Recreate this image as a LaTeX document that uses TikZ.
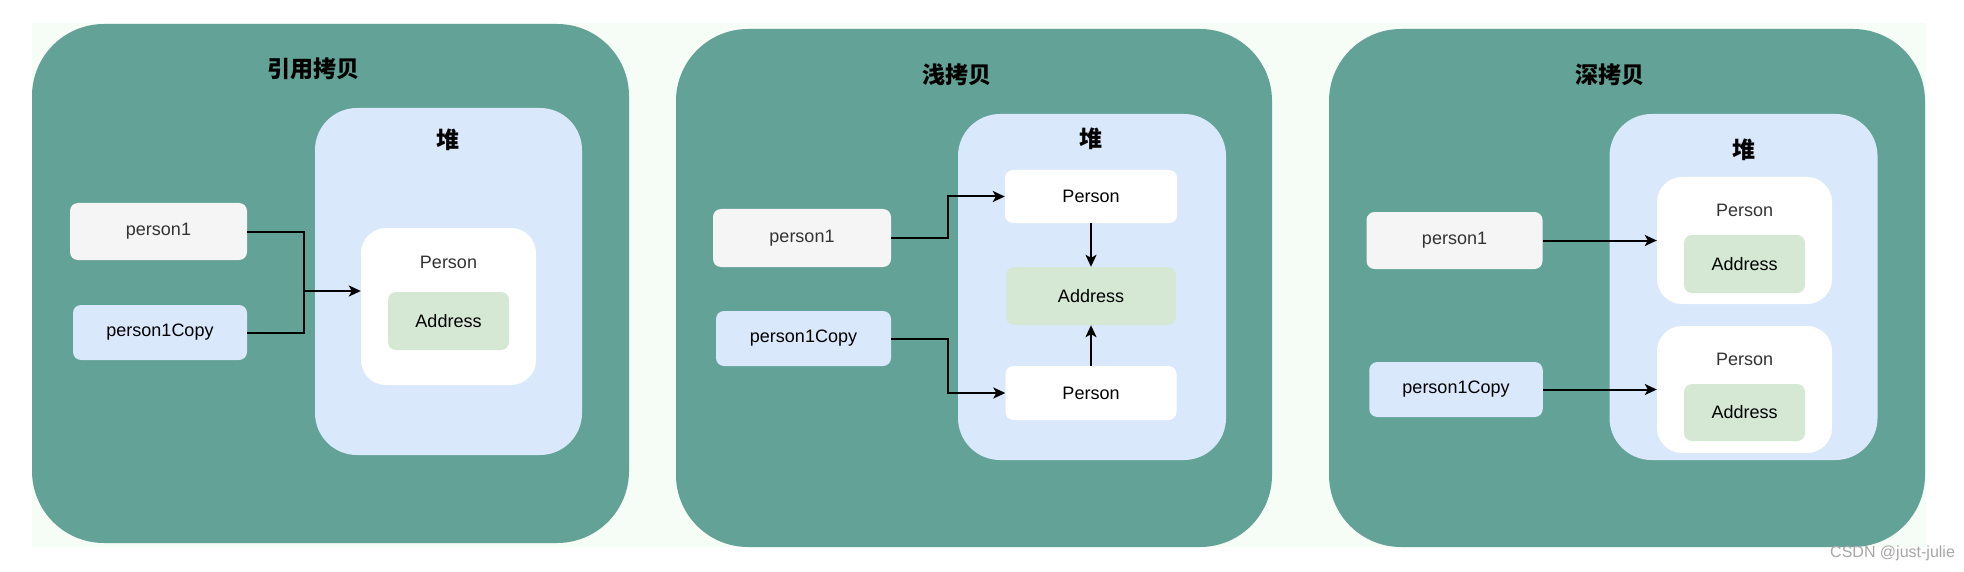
\documentclass[tikz,border=0pt]{standalone}
\usepackage{fontspec}
\setmainfont{Liberation Sans}
\newfontfamily\cjk{Noto Sans CJK SC}
\usetikzlibrary{arrows.meta}
\definecolor{panelgreen}{HTML}{63A296}
\definecolor{heapblue}{HTML}{DAE8FC}
\definecolor{greybox}{HTML}{F5F5F5}
\definecolor{addrgreen}{HTML}{D5E8D4}
\definecolor{bgc}{HTML}{F6FCF6}
\definecolor{txtgrey}{HTML}{333333}
\begin{document}
\begin{tikzpicture}[x=1pt,y=-1pt,
  panel/.style={fill=panelgreen, rounded corners=72pt, inner sep=0pt},
  heap/.style={fill=heapblue, rounded corners=42pt, inner sep=0pt},
  title/.style={font=\cjk\bfseries\fontsize{23}{26}\selectfont, text=black},
  heaplbl/.style={font=\cjk\bfseries\fontsize{23}{26}\selectfont, text=black},
  varbox/.style={rounded corners=8pt, inner sep=0pt, font=\fontsize{18}{20}\selectfont},
  objbig/.style={fill=white, rounded corners=25pt, inner sep=0pt},
  objsmall/.style={fill=white, rounded corners=8pt, inner sep=0pt, font=\fontsize{18}{20}\selectfont, text=black},
  addr/.style={fill=addrgreen, rounded corners=8pt, inner sep=0pt, font=\fontsize{18}{20}\selectfont, text=black},
  lbl/.style={font=\fontsize{18}{20}\selectfont, text=txtgrey},
  conn/.style={draw=black, line width=2pt},
  arr/.style={conn, -{Stealth[length=12pt,width=11pt,inset=3pt]}}
]
\useasboundingbox (0,0) rectangle (1964,572);
\fill[white] (0,0) rectangle (1964,572);
\fill[bgc] (32,23) rectangle (1926,547);

% ---------- Panel 1 ----------
\node[panel, minimum width=597pt, minimum height=519pt] (g1) at (330.5,283.5) {};
\node[title] (t1) at (313,69) {引用拷贝};
\node[heap, minimum width=267pt, minimum height=347pt] (h1) at (448.5,281.5) {};
\node[heaplbl] (hl1) at (448,140) {堆};
\node[varbox, fill=greybox, text=txtgrey, minimum width=177pt, minimum height=57pt] (a1) at (158.5,231.5) {person1};
\node[varbox, fill=heapblue, text=black, minimum width=174pt, minimum height=55pt] (c1) at (160,332.5) {person1Copy};
\node[objbig, minimum width=175pt, minimum height=157pt] (o1) at (448.5,306.5) {};
\node[lbl] (ol1) at (448.5,262) {Person};
\node[addr, minimum width=121pt, minimum height=58pt] (ad1) at (448.5,321) {Address};
\coordinate (j1) at (304,291);
\draw[conn, line join=miter] (a1.east) -| (j1);
\draw[conn, line join=miter] (c1.east) -| (j1);
\draw[arr] (j1) -- (o1.west |- j1);

% ---------- Panel 2 ----------
\node[panel, minimum width=596pt, minimum height=518pt] (g2) at (974,288) {};
\node[title] (t2) at (957,75) {浅拷贝};
\node[heap, minimum width=268pt, minimum height=346pt] (h2) at (1092,287) {};
\node[heaplbl] (hl2) at (1091,139) {堆};
\node[varbox, fill=greybox, text=txtgrey, minimum width=178pt, minimum height=58pt] (a2) at (802,238) {person1};
\node[varbox, fill=heapblue, text=black, minimum width=175pt, minimum height=55pt] (c2) at (803.5,338.5) {person1Copy};
\node[objsmall, minimum width=172pt, minimum height=53pt] (pa2) at (1091,196.5) {Person};
\node[addr, minimum width=170pt, minimum height=58pt] (ad2) at (1091,296) {Address};
\node[objsmall, minimum width=171pt, minimum height=54pt] (pb2) at (1091,393) {Person};
\draw[arr, line join=miter] (a2.east) -- ++(57,0) |- (pa2.west);
\draw[arr, line join=miter] (c2.east) -- ++(57,0) |- (pb2.west);
\draw[arr] (pa2.south) -- (ad2.north);
\draw[arr] (pb2.north) -- (ad2.south);

% ---------- Panel 3 ----------
\node[panel, minimum width=596pt, minimum height=518pt] (g3) at (1627,288) {};
\node[title] (t3) at (1609.5,75) {深拷贝};
\node[heap, minimum width=268pt, minimum height=346pt] (h3) at (1743.5,287) {};
\node[heaplbl] (hl3) at (1744,150) {堆};
\node[varbox, fill=greybox, text=txtgrey, minimum width=176pt, minimum height=57pt] (a3) at (1454.5,240.5) {person1};
\node[varbox, fill=heapblue, text=black, minimum width=173.5pt, minimum height=55pt] (c3) at (1456,389.5) {person1Copy};
\node[objbig, minimum width=175pt, minimum height=127pt] (o3a) at (1744.5,240.5) {};
\node[lbl] (ol3a) at (1744.5,210) {Person};
\node[addr, minimum width=121pt, minimum height=58pt] (ad3a) at (1744.5,264) {Address};
\node[objbig, minimum width=175pt, minimum height=127pt] (o3b) at (1744.5,389.5) {};
\node[lbl] (ol3b) at (1744.5,359) {Person};
\node[addr, minimum width=121pt, minimum height=57pt] (ad3b) at (1744.5,412.5) {Address};
\draw[arr] (a3.east) -- (o3a.west);
\draw[arr] (c3.east) -- (o3b.west);

% ---------- watermark ----------
\node[anchor=west, inner sep=0pt, text=black!35, font=\fontsize{16}{18}\selectfont] (wm) at (1830,553) {CSDN @just-julie};
\end{tikzpicture}
\end{document}
